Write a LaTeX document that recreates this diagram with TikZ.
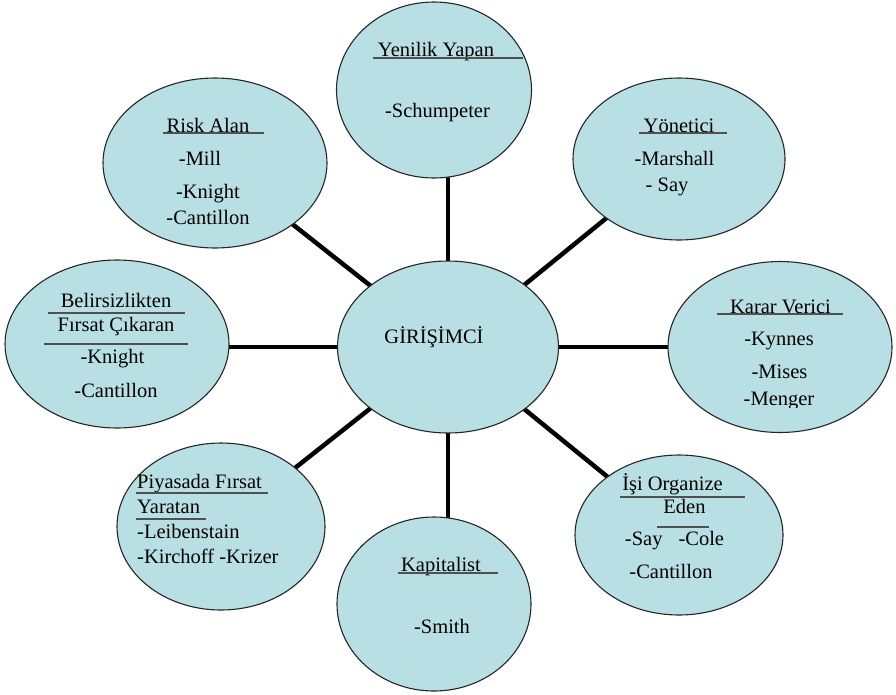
\documentclass[tikz,border=0pt]{standalone}
\usepackage{fontspec}
\setmainfont{LiberationSerif}[Extension=.ttf, UprightFont=*-Regular, BoldFont=*-Bold, ItalicFont=*-Italic]
\usetikzlibrary{shapes.geometric,backgrounds}
\definecolor{bub}{RGB}{184,223,227}
\definecolor{ulc}{RGB}{80,80,80}
\begin{document}
\begin{tikzpicture}[x=1pt,y=-1pt,
  bubble/.style={ellipse, draw=black!85, line width=1.1pt, fill=bub, inner sep=0pt},
  txt/.style={anchor=base, inner sep=0pt, font=\fontsize{20.5}{24}\selectfont},
  txtl/.style={txt, anchor=base west},
  link/.style={line width=4.5pt, black},
  uline/.style={line width=1.4pt, ulc}]
\useasboundingbox (0,0) rectangle (896,694);

% bubbles
\node[bubble, minimum width=195pt, minimum height=176pt] (top) at (434,90) {};
\node[bubble, minimum width=224pt, minimum height=170pt] (risk) at (215,163) {};
\node[bubble, minimum width=212pt, minimum height=162pt] (yon) at (679,159) {};
\node[bubble, minimum width=224pt, minimum height=168pt] (bel) at (117,344) {};
\node[bubble, minimum width=221pt, minimum height=172pt] (c) at (448,347) {};
\node[bubble, minimum width=224pt, minimum height=171pt] (karar) at (780,347) {};
\node[bubble, minimum width=208pt, minimum height=167pt] (piy) at (221,526.5) {};
\node[bubble, minimum width=208pt, minimum height=160pt] (isi) at (679,535) {};
\node[bubble, minimum width=194pt, minimum height=174pt] (kap) at (434,604) {};

% connectors
\begin{pgfonlayer}{background}
\draw[link] (c.center) -- (c.center |- top.center);
\draw[link] (c.center) -- (risk.center);
\draw[link] (c.center) -- (yon.center);
\draw[link] (c.center) -- (c.center -| bel.center);
\draw[link] (c.center) -- (c.center -| karar.center);
\draw[link] (c.center) -- (piy.center);
\draw[link] (c.center) -- (isi.center);
\draw[link] (c.center) -- (c.center |- kap.center);
\end{pgfonlayer}

% texts
\node[txt] (ct) at (434,343) {GİRİŞİMCİ};

\node[txt] (t0) at (436,56) {Yenilik Yapan};
\node[txt] (t1) at (437.5,117) {-Schumpeter};
\draw[uline] (373,58) -- (523,58);

\node[txt] (r0) at (208,132) {Risk Alan};
\node[txt] (r1) at (200,165) {-Mill};
\node[txt] (r2) at (208,198) {-Knight};
\node[txt] (r3) at (208,224) {-Cantillon};
\draw[uline] (163,133) -- (264,133);

\node[txt] (y0) at (679,132) {Yönetici};
\node[txt] (y1) at (674.5,165) {-Marshall};
\node[txt] (y2) at (667,191) {- Say};
\draw[uline] (639,133) -- (727,133);

\node[txt] (b0) at (116,307) {Belirsizlikten};
\node[txt] (b1) at (116,331) {Fırsat Çıkaran};
\node[txt] (b2) at (112.5,363) {-Knight};
\node[txt] (b3) at (116,397) {-Cantillon};
\draw[uline] (48,313) -- (185,313);
\draw[uline] (44,344) -- (188,344);

\node[txt] (k0) at (780.5,313) {Karar Verici};
\node[txt] (k1) at (779,345) {-Kynnes};
\node[txt] (k2) at (779.5,378) {-Mises};
\begin{scope}
\clip (700,380) rectangle (860,407);
\node[txt] (k3) at (779,405) {-Menger};
\end{scope}
\draw[uline] (717,314) -- (843,314);

\node[txtl] (p0) at (137,488) {Piyasada Fırsat};
\node[txtl] (p1) at (137,513) {Yaratan};
\node[txtl] (p2) at (137,538) {-Leibenstain};
\node[txtl] (p3) at (137,563) {-Kirchoff -Krizer};
\draw[uline] (136,493) -- (268,493);
\draw[uline, line width=2pt] (136,519) -- (206,519);

\node[txt] (i0) at (672.5,490) {İşi Organize};
\node[txt] (i1) at (684.5,513) {Eden};
\node[txt] (i2) at (674.5,545) {-Say\hspace{16pt}-Cole};
\node[txt] (i3) at (671,578) {-Cantillon};
\draw[uline] (620,497) -- (745,497);
\draw[uline] (657,527) -- (709,527);

\node[txt] (a0) at (441,571) {Kapitalist};
\node[txt] (a1) at (442,633) {-Smith};
\draw[uline] (398,573) -- (498,573);
\end{tikzpicture}
\end{document}
